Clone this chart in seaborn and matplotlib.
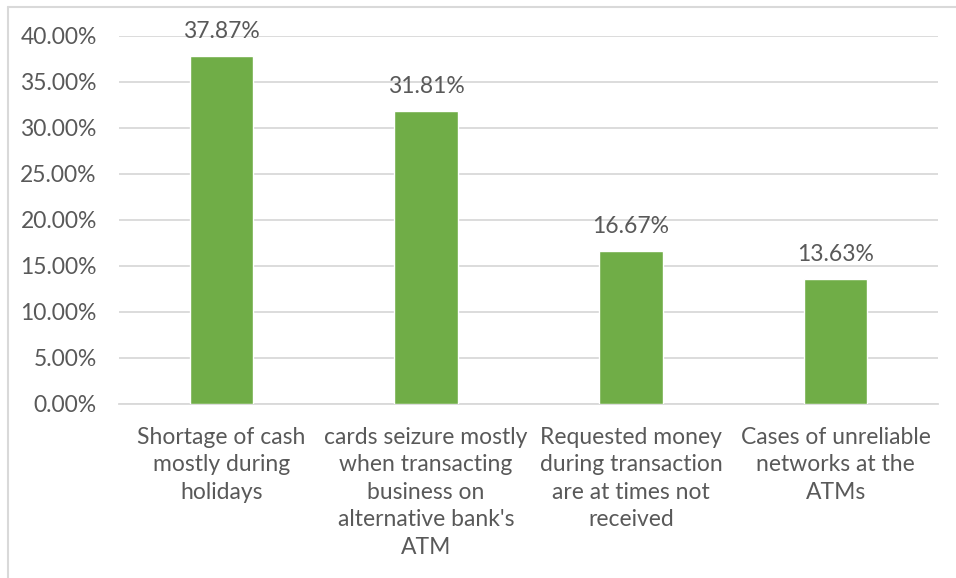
import matplotlib
matplotlib.use("Agg")
import matplotlib.pyplot as plt
import seaborn as sns
import pandas as pd
from matplotlib.lines import Line2D
from matplotlib.ticker import FuncFormatter, MultipleLocator

categories = [
    "Shortage of cash\nmostly during\nholidays",
    "cards seizure mostly\nwhen transacting\nbusiness on\nalternative bank's\nATM",
    "Requested money\nduring transaction\nare at times not\nreceived",
    "Cases of unreliable\nnetworks at the\nATMs",
]
values = [37.87, 31.81, 16.67, 13.63]

df = pd.DataFrame({"category": categories, "value": values})

sns.set_theme(style="white")
plt.rcParams["font.family"] = ["Lato", "DejaVu Sans"]
text_color = "#595959"
grid_color = "#D9D9D9"

fig = plt.figure(figsize=(9.56, 5.78), dpi=100)
ax = fig.add_axes([119 / 956, 1 - 404 / 578, (938 - 119) / 956, (404 - 36) / 578])

sns.barplot(data=df, x="category", y="value", color="#70AD47", width=0.31,
            saturation=1, ax=ax, zorder=3)

ax.set_ylim(0, 40)
ax.yaxis.set_major_locator(MultipleLocator(5))
ax.yaxis.set_major_formatter(FuncFormatter(lambda v, p: f"{v:.2f}%"))
ax.grid(axis="y", color=grid_color, linewidth=1.3, zorder=0)
ax.set_axisbelow(True)
for s in ["top", "right", "left"]:
    ax.spines[s].set_visible(False)
ax.spines["bottom"].set_color(grid_color)
ax.spines["bottom"].set_linewidth(1.3)
ax.set_xlabel("")
ax.set_ylabel("")
ax.tick_params(axis="both", length=0, colors=text_color, labelsize=16.5)
ax.tick_params(axis="y", pad=16)
ax.tick_params(axis="x", pad=16.5)
for lbl in ax.get_xticklabels():
    lbl.set_linespacing(1.38)
    lbl.set_ha("center")

for c in ax.containers:
    ax.bar_label(c, labels=[f"{v:.2f}%" for v in values], padding=10,
                 color=text_color, fontsize=16.5)

fig.add_artist(Line2D([8 / 956, 8 / 956], [0, 1 - 7 / 578], color=grid_color,
                      linewidth=1.5, transform=fig.transFigure))
fig.add_artist(Line2D([8 / 956, 1], [1 - 7 / 578, 1 - 7 / 578], color=grid_color,
                      linewidth=1.5, transform=fig.transFigure))

fig.savefig("out.png", dpi=100)
